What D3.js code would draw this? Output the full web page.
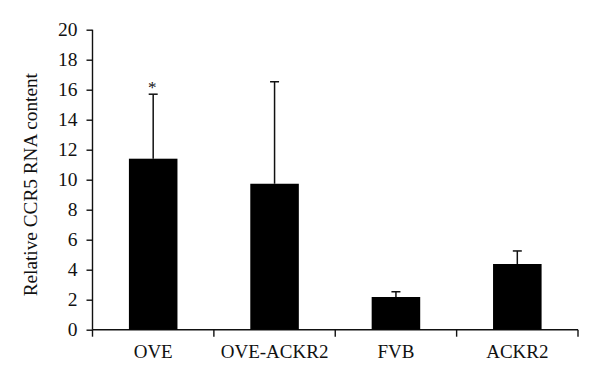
<!DOCTYPE html>
<html><head><meta charset="utf-8">
<script src="https://cdn.jsdelivr.net/npm/d3@7"></script>
<style>body{margin:0;background:#fff}svg{display:block}text{font-family:"Liberation Serif","DejaVu Serif",serif;fill:#111}</style>
</head><body>
<script>
const categories = ["OVE","OVE-ACKR2","FVB","ACKR2"];
const values = [11.4, 9.73, 2.18, 4.38];
const errors = [4.3, 6.8, 0.35, 0.87];
const yTicks = [0,2,4,6,8,10,12,14,16,18,20];
const significance = ["*","","",""];
const yLabel = "Relative CCR5 RNA content";

const W=600,H=379;
const svg=d3.select("body").append("svg").attr("width",W).attr("height",H);
const x=d3.scaleBand().domain(categories).range([92.5,578]).padding(0);
const y=d3.scaleLinear().domain([0,20]).range([329.7,29.7]);
const bw=x.bandwidth()*0.4;

const yAxis=d3.axisLeft(y).tickValues(yTicks).tickSize(6).tickPadding(9);
const gy=svg.append("g").attr("transform","translate(92.5,0)").call(yAxis);
gy.selectAll("line,path").attr("stroke","#111").attr("stroke-width",1.4);
gy.select(".domain").attr("d","M0,"+y(20)+"V"+y(0));
gy.selectAll("text").style("font-size","19.5px").style("font-family","Liberation Serif").attr("fill","#111");

const gx=svg.append("g").attr("transform","translate(0,"+y(0)+")");
gx.append("line").attr("x1",92.5).attr("x2",578).attr("stroke","#111").attr("stroke-width",1.4);
const edges=[x.range()[0]].concat(categories.map(c=>x(c)+x.bandwidth()));
gx.selectAll("line.t").data(edges).enter().append("line").attr("class","t")
  .attr("x1",d=>d).attr("x2",d=>d).attr("y1",0).attr("y2",7).attr("stroke","#111").attr("stroke-width",1.4);
gx.selectAll("text").data(categories).enter().append("text")
  .attr("x",d=>x(d)+x.bandwidth()/2).attr("y",28).attr("text-anchor","middle")
  .style("font-size","19px").text(d=>d);

const cx=d=>x(d)+x.bandwidth()/2;
svg.selectAll("line.err").data(categories).enter().append("line")
  .attr("x1",cx).attr("x2",cx).attr("y1",(d,i)=>y(values[i])).attr("y2",(d,i)=>y(values[i]+errors[i]))
  .attr("stroke","#111").attr("stroke-width",1.5);
svg.selectAll("line.cap").data(categories).enter().append("line")
  .attr("x1",d=>cx(d)-4.5).attr("x2",d=>cx(d)+4.5).attr("y1",(d,i)=>y(values[i]+errors[i])).attr("y2",(d,i)=>y(values[i]+errors[i]))
  .attr("stroke","#111").attr("stroke-width",1.5);
svg.selectAll("rect.bar").data(categories).enter().append("rect")
  .attr("x",d=>cx(d)-bw/2).attr("width",bw).attr("y",(d,i)=>y(values[i])).attr("height",(d,i)=>y(0)-y(values[i]))
  .attr("fill","#000");
svg.selectAll("text.sig").data(categories).enter().append("text")
  .attr("x",d=>cx(d)-1).attr("y",(d,i)=>y(values[i]+errors[i])-1.5).attr("text-anchor","middle")
  .style("font-size","17px").text((d,i)=>significance[i]);

svg.append("text").attr("transform","translate(36.5,"+((y(0)+y(20))/2+5)+") rotate(-90)")
  .attr("text-anchor","middle").style("font-size","19.3px").text(yLabel);
</script>
</body></html>
